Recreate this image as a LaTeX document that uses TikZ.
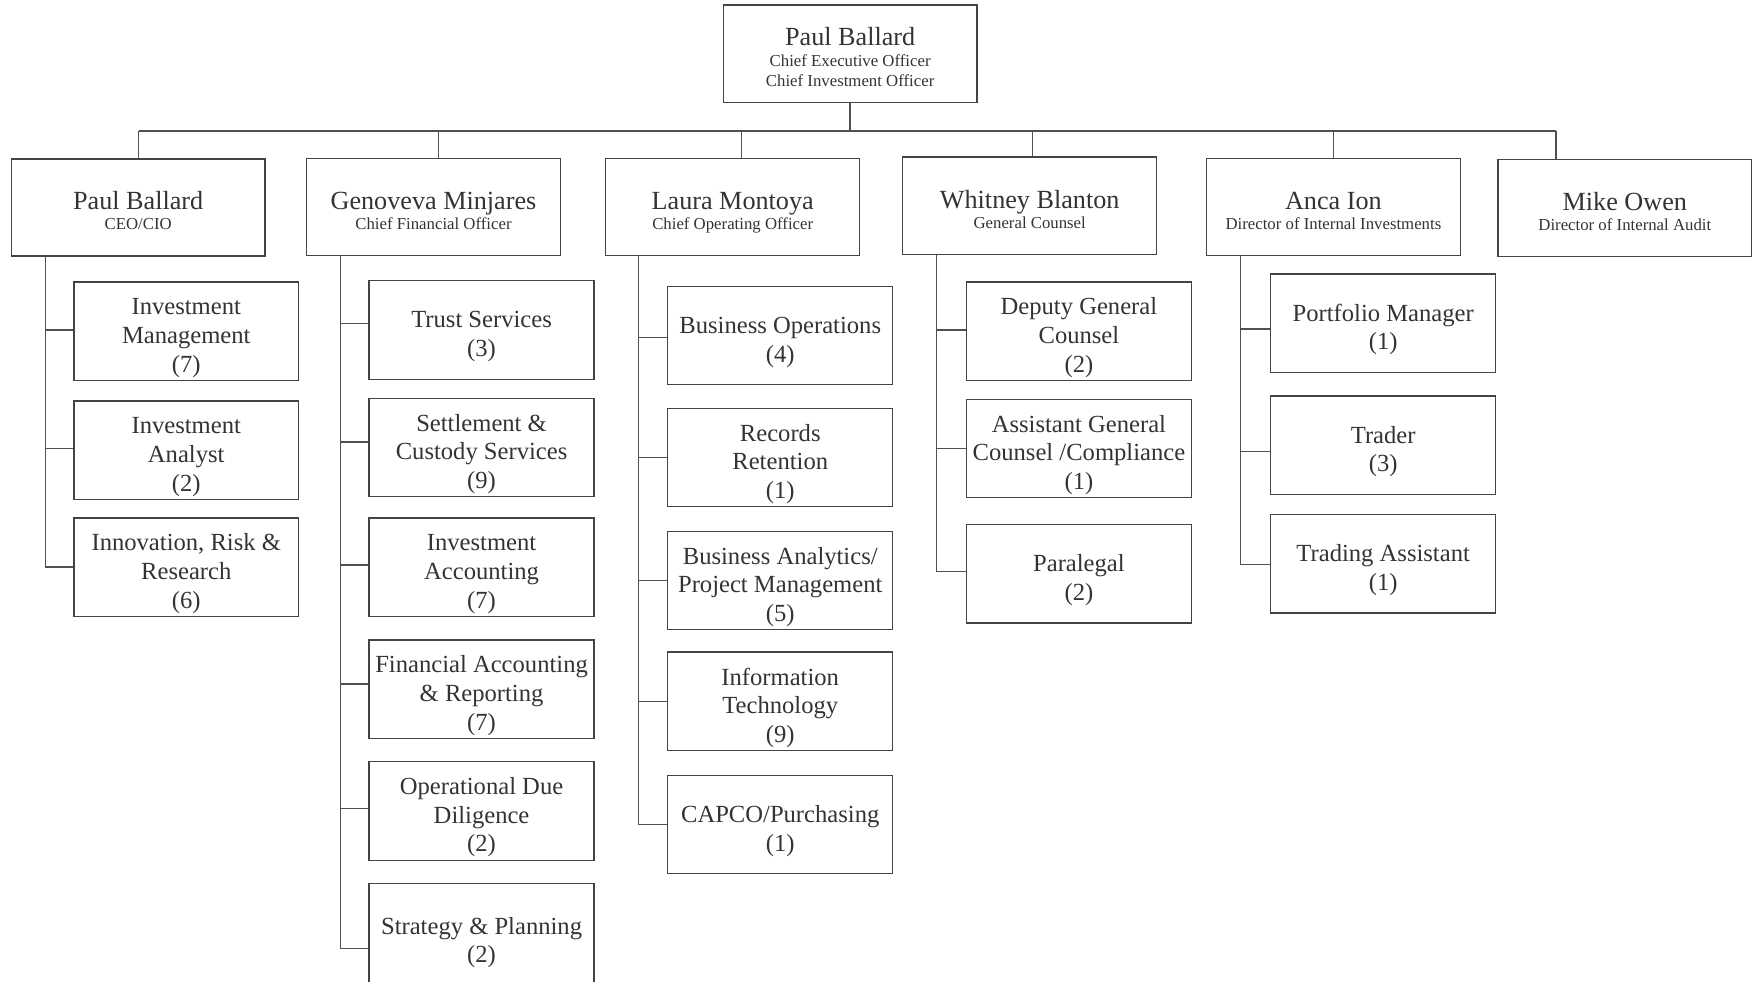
\documentclass[tikz,border=0pt]{standalone}
\usepackage{fontspec}
\setmainfont{Liberation Serif}
\definecolor{boxline}{HTML}{444444}
\definecolor{linkline}{HTML}{505050}
\definecolor{textgray}{HTML}{333333}
\newcommand{\namefont}{\fontsize{11.7}{13}\selectfont\rule{0pt}{11pt}}
\newcommand{\subfont}{\fontsize{7.5}{9}\selectfont}
\newcommand{\unitfont}{\fontsize{11}{12.8}\selectfont}
\newcommand{\ustrut}{\rule{0pt}{11pt}}
\tikzset{
  headbox/.style={draw=boxline,line width=0.6pt,minimum width=113.5pt,minimum height=43.5pt,
    inner sep=0pt,align=center,font=\subfont,text=textgray,text depth=0pt},
  unitbox/.style={draw=boxline,line width=0.6pt,minimum width=100.5pt,minimum height=44pt,
    inner sep=0pt,align=center,font=\unitfont,text=textgray,text depth=0pt},
  link/.style={draw=linkline,line width=0.6pt}
}
\begin{document}
\begin{tikzpicture}[x=0.5pt,y=-0.5pt]
        \useasboundingbox (0,0) rectangle (1568,877.8);
        %% Top
        \node[headbox] (ceo) at (760,48) {{\namefont Paul Ballard}\\Chief Executive Officer\\Chief Investment Officer};
        %% Heads
        \node[headbox] (h1) at (123.5,185.5) {{\namefont Paul Ballard}\\CEO/CIO};
        \node[headbox] (h2) at (387.5,185) {{\namefont Genoveva Minjares}\\Chief Financial Officer};
        \node[headbox] (h3) at (655,185) {{\namefont Laura Montoya}\\Chief Operating Officer};
        \node[headbox] (h4) at (920.5,184) {{\namefont Whitney Blanton}\\General Counsel};
        \node[headbox] (h5) at (1192,185) {{\namefont Anca Ion}\\Director of Internal Investments};
        \node[headbox] (h6) at (1452.5,186) {{\namefont Mike Owen}\\Director of Internal Audit};
        %% Units
        \node[unitbox] (u11) at (166.5,296) {\ustrut Investment\\Management\\(7)};
        \node[unitbox] (u12) at (166.5,402.5) {\ustrut Investment\\Analyst\\(2)};
        \node[unitbox] (u13) at (166.5,507) {\ustrut Innovation, Risk \&\\Research\\(6)};
        \node[unitbox] (u21) at (430.5,295) {\ustrut Trust Services\\(3)};
        \node[unitbox] (u22) at (430.5,400) {\ustrut Settlement \&\\Custody Services\\(9)};
        \node[unitbox] (u23) at (430.5,507) {\ustrut Investment\\Accounting\\(7)};
        \node[unitbox] (u24) at (430.5,616) {\ustrut Financial Accounting\\\& Reporting\\(7)};
        \node[unitbox] (u25) at (430.5,725) {\ustrut Operational Due\\Diligence\\(2)};
        \node[unitbox,minimum height=47pt] (u26) at (430.5,837) {\ustrut Strategy \& Planning\\(2)};
        \node[unitbox] (u31) at (697.5,300) {\ustrut Business Operations\\(4)};
        \node[unitbox] (u32) at (697.5,409) {\ustrut Records\\Retention\\(1)};
        \node[unitbox] (u33) at (697.5,519) {\ustrut Business Analytics/\\Project Management\\(5)};
        \node[unitbox] (u34) at (697.5,627) {\ustrut Information\\Technology\\(9)};
        \node[unitbox] (u35) at (697.5,737) {\ustrut CAPCO/Purchasing\\(1)};
        \node[unitbox] (u41) at (964.5,296) {\ustrut Deputy General\\Counsel\\(2)};
        \node[unitbox] (u42) at (964.5,401) {\ustrut Assistant General\\Counsel /Compliance\\(1)};
        \node[unitbox] (u43) at (964.5,513) {\ustrut Paralegal\\(2)};
        \node[unitbox] (u51) at (1236.5,289) {\ustrut Portfolio Manager\\(1)};
        \node[unitbox] (u52) at (1236.5,398) {\ustrut Trader\\(3)};
        \node[unitbox] (u53) at (1236.5,504) {\ustrut Trading Assistant\\(1)};
        %% Bus
        \coordinate (busL) at (124,117);
        \coordinate (busR) at (1391,117);
        \draw[link] (busL) -- (busR);
        \draw[link] (ceo.south) -- (ceo.south |- busL);
        \foreach \h/\dx in {h1/0.25,h2/2.25,h3/4,h4/1.25,h5/0,h6/-30.75}{
            \path ([xshift=\dx pt]\h.north) coordinate (top\h);
            \draw[link] (top\h) -- (top\h |- busL);
        }
        %% Stems
        \path ([xshift=15.5pt]h1.south west) coordinate (s1);
        \path ([xshift=15.5pt]h2.south west) coordinate (s2);
        \path ([xshift=15pt]h3.south west) coordinate (s3);
        \path ([xshift=15.5pt]h4.south west) coordinate (s4);
        \path ([xshift=15.5pt]h5.south west) coordinate (s5);
        \foreach \u/\dy in {u11/0.5,u12/0.75,u13/0}
            \draw[link] (s1) |- ([yshift=\dy pt]\u.west);
        \foreach \u/\dy in {u21/3,u22/2.5,u23/1,u24/2.2,u25/1,u26/-5.5}
            \draw[link] (s2) |- ([yshift=\dy pt]\u.west);
        \foreach \u/\dy in {u31/-1,u32/0,u33/0,u34/0,u35/0}
            \draw[link] (s3) |- ([yshift=\dy pt]\u.west);
        \foreach \u/\dy in {u41/0.5,u42/0,u43/1}
            \draw[link] (s4) |- ([yshift=\dy pt]\u.west);
        \foreach \u/\dy in {u51/-2.5,u52/-2.75,u53/-0.25}
            \draw[link] (s5) |- ([yshift=\dy pt]\u.west);
    \end{tikzpicture}
\end{document}
